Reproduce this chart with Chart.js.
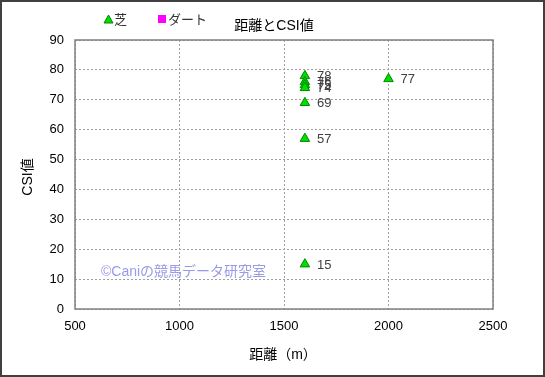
<!DOCTYPE html>
<html>
<head>
<meta charset="utf-8">
<script src="https://cdn.jsdelivr.net/npm/chart.js@4"></script>
<style>
  html, body { margin: 0; padding: 0; background: #fff; }
  #wrap { width: 545px; height: 377px; position: relative; }
</style>
</head>
<body>
<div id="wrap"><canvas id="chart" width="545" height="377"></canvas></div>
<script>
// 芝 (turf) points: distance (m) and CSI value
const turfDistance = [1600, 1600, 1600, 1600, 1600, 1600, 1600, 2000];
const turfCsi      = [78, 76, 75, 74, 69, 57, 15, 77];
// ダート (dirt) has no points in this chart
const dirtDistance = [];
const dirtCsi      = [];

const xTicks = [500, 1000, 1500, 2000, 2500];
const yTicks = [0, 10, 20, 30, 40, 50, 60, 70, 80, 90];

const FONT = '"Liberation Sans", "Noto Sans CJK JP", sans-serif';

const toPoints = (xs, ys) => xs.map((x, i) => ({ x: x, y: ys[i] }));

// frame, plot border, title, legend, axis titles, labels, watermark
const decor = {
    id: 'decor',
    beforeDraw(chart) {
        const ctx = chart.ctx;
        ctx.save();
        ctx.fillStyle = '#fff';
        ctx.fillRect(0, 0, chart.width, chart.height);
        ctx.restore();
    },
    afterDatasetsDraw(chart) {
        const ctx = chart.ctx;
        ctx.save();

        // labels next to each point
        ctx.font = '13px ' + FONT;
        ctx.fillStyle = '#404040';
        ctx.textAlign = 'left';
        ctx.textBaseline = 'middle';
        chart.data.datasets.forEach((ds, di) => {
            chart.getDatasetMeta(di).data.forEach((el, i) => {
                ctx.fillText(String(ds.data[i].y), el.x + 12, el.y + 1);
            });
        });

        // watermark
        ctx.font = '14px ' + FONT;
        ctx.fillStyle = '#9a9ae8';
        ctx.fillText('©Caniの競馬データ研究室', 101, 272);
        ctx.restore();
    },
    afterDraw(chart) {
        const ctx = chart.ctx;
        const a = chart.chartArea;
        ctx.save();

        // plot border
        ctx.strokeStyle = '#808080';
        ctx.lineWidth = 1.5;
        ctx.strokeRect(a.left, a.top, a.right - a.left, a.bottom - a.top);

        // outer frame
        ctx.strokeStyle = '#404040';
        ctx.lineWidth = 2;
        ctx.strokeRect(1, 1, chart.width - 2, chart.height - 2);

        // title
        ctx.fillStyle = '#000';
        ctx.font = '14px ' + FONT;
        ctx.textAlign = 'center';
        ctx.textBaseline = 'middle';
        ctx.fillText('距離とCSI値', 274, 26);

        // legend
        ctx.font = '13px ' + FONT;
        ctx.textAlign = 'left';
        const legendX = [104, 158];
        chart.data.datasets.forEach((ds, di) => {
            const x = legendX[di];
            const y = 20;
            ctx.fillStyle = ds.backgroundColor;
            ctx.strokeStyle = ds.borderColor;
            ctx.lineWidth = 1;
            if (ds.pointStyle === 'triangle') {
                ctx.beginPath();
                ctx.moveTo(x + 4.5, y - 5);
                ctx.lineTo(x + 9, y + 3);
                ctx.lineTo(x, y + 3);
                ctx.closePath();
                ctx.fill();
                ctx.stroke();
            } else {
                ctx.fillRect(x, y - 5, 8, 8);
            }
            ctx.fillStyle = '#333';
            ctx.fillText(ds.label, x + 10, y);
        });

        // axis titles
        ctx.fillStyle = '#000';
        ctx.font = '14px ' + FONT;
        ctx.textAlign = 'center';
        ctx.fillText('距離（m）', 283, 355);
        ctx.translate(28, 177);
        ctx.rotate(-Math.PI / 2);
        ctx.fillText('CSI値', 0, 0);
        ctx.restore();
    }
};

new Chart(document.getElementById('chart'), {
    type: 'scatter',
    data: {
        datasets: [
            {
                label: '芝',
                data: toPoints(turfDistance, turfCsi),
                pointStyle: 'triangle',
                backgroundColor: '#00dd00',
                borderColor: '#008800',
                borderWidth: 1,
                pointRadius: 5.5
            },
            {
                label: 'ダート',
                data: toPoints(dirtDistance, dirtCsi),
                pointStyle: 'rect',
                backgroundColor: '#ff00ff',
                borderColor: '#ff00ff',
                pointRadius: 5
            }
        ]
    },
    options: {
        responsive: false,
        animation: false,
        layout: { padding: { top: 40, right: 52, left: 0, bottom: 0 } },
        plugins: {
            legend: { display: false },
            title: { display: false },
            tooltip: { enabled: false }
        },
        scales: {
            x: {
                type: 'linear',
                min: 500,
                max: 2500,
                afterBuildTicks: s => { s.ticks = xTicks.map(v => ({ value: v })); },
                afterFit: s => { s.height = 68; },
                border: { display: false, dash: [2, 2] },
                grid: { color: '#a0a0a0', drawTicks: false, lineWidth: 1 },
                ticks: {
                    color: '#000',
                    font: { family: FONT, size: 13 },
                    padding: 10,
                    maxRotation: 0,
                    callback: v => String(v)
                }
            },
            y: {
                type: 'linear',
                min: 0,
                max: 90,
                afterBuildTicks: s => { s.ticks = yTicks.map(v => ({ value: v })); },
                afterFit: s => { s.width = 75; },
                border: { display: false, dash: [2, 2] },
                grid: { color: '#a0a0a0', drawTicks: false, lineWidth: 1 },
                ticks: {
                    color: '#000',
                    font: { family: FONT, size: 13 },
                    padding: 11,
                    callback: v => String(v)
                }
            }
        }
    },
    plugins: [decor]
});
</script>
</body>
</html>
